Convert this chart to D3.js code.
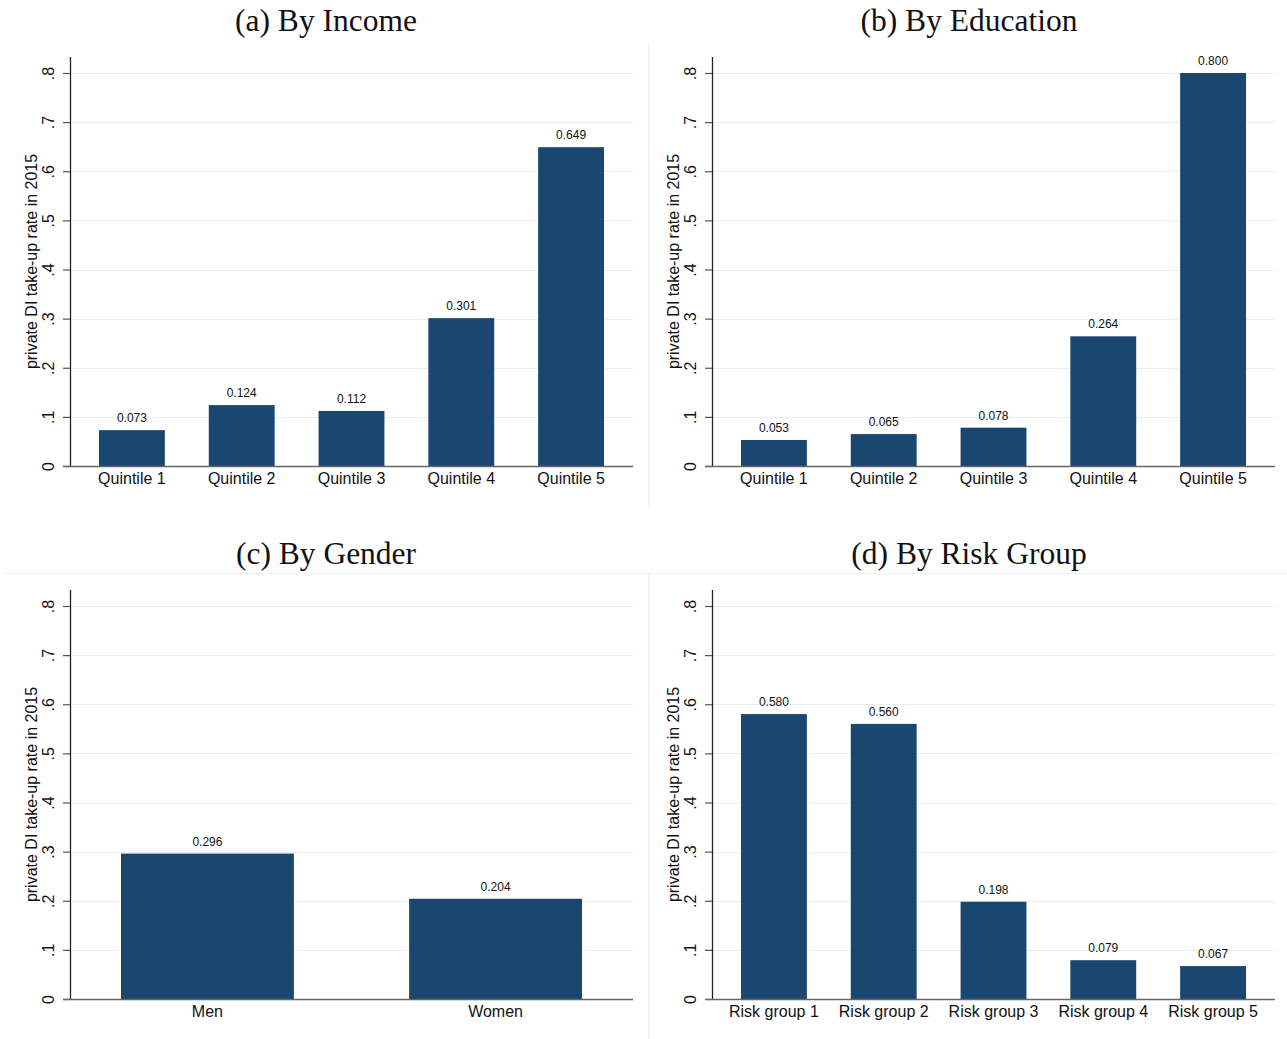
<!DOCTYPE html>
<html>
<head>
<meta charset="utf-8">
<script src="https://cdn.jsdelivr.net/npm/d3@7/dist/d3.min.js"></script>
<style>
  html, body { margin: 0; padding: 0; background: #fff; }
  svg { display: block; }
</style>
</head>
<body>
<script>
// ---------- data ----------
const titles = ["(a) By Income", "(b) By Education", "(c) By Gender", "(d) By Risk Group"];
const incomeCats = ["Quintile 1", "Quintile 2", "Quintile 3", "Quintile 4", "Quintile 5"];
const incomeVals = [0.073, 0.124, 0.112, 0.301, 0.649];
const eduCats = ["Quintile 1", "Quintile 2", "Quintile 3", "Quintile 4", "Quintile 5"];
const eduVals = [0.053, 0.065, 0.078, 0.264, 0.800];
const genderCats = ["Men", "Women"];
const genderVals = [0.296, 0.204];
const riskCats = ["Risk group 1", "Risk group 2", "Risk group 3", "Risk group 4", "Risk group 5"];
const riskVals = [0.580, 0.560, 0.198, 0.079, 0.067];
const yTicks = [0, 0.1, 0.2, 0.3, 0.4, 0.5, 0.6, 0.7, 0.8];
const yTickLabels = ["0", ".1", ".2", ".3", ".4", ".5", ".6", ".7", ".8"];
const yTitle = "private DI take-up rate in 2015";

// ---------- layout ----------
const W = 1287, H = 1039;
const svg = d3.select("body").append("svg").attr("width", W).attr("height", H);
const barColor = "#1a476f";
const sans = "'Liberation Sans', Arial, sans-serif";
const serif = "'Liberation Serif', 'Times New Roman', serif";

// faint separators
const sep = svg.append("g").attr("stroke", "#edf3f5").attr("stroke-width", 1.2);
sep.append("line").attr("x1", 648.5).attr("x2", 648.5).attr("y1", 42).attr("y2", 508);
sep.append("line").attr("x1", 648.5).attr("x2", 648.5).attr("y1", 573).attr("y2", 1039);
sep.append("line").attr("x1", 5).attr("x2", 1287).attr("y1", 573.5).attr("y2", 573.5);

const panels = [
  {title: titles[0], cats: incomeCats, vals: incomeVals, ox: 0,   oy: 0,   po: 0.264, tx: 326},
  {title: titles[1], cats: eduCats,    vals: eduVals,    ox: 642, oy: 0,   po: 0.264, tx: 969},
  {title: titles[2], cats: genderCats, vals: genderVals, ox: 0,   oy: 533, po: 0.177, tx: 326},
  {title: titles[3], cats: riskCats,   vals: riskVals,   ox: 642, oy: 533, po: 0.264, tx: 969}
];

panels.forEach(p => {
  const x0 = 70 + p.ox, x1 = 633 + p.ox;
  const yBase = 466 + p.oy, yTop = 73 + p.oy;
  const y = d3.scaleLinear().domain([0, 0.8]).range([yBase, yTop]);
  const x = d3.scaleBand().domain(p.cats).range([x0, x1]).paddingInner(0.4).paddingOuter(p.po);

  // title
  svg.append("text")
    .attr("x", p.tx).attr("y", 31 + p.oy)
    .attr("text-anchor", "middle")
    .style("font-family", serif).style("font-size", "31.5px").attr("fill", "#111")
    .text(p.title);

  const g = svg.append("g");

  // grid
  g.append("g").selectAll("line")
    .data(yTicks.filter(d => d > 0))
    .join("line")
    .attr("x1", x0).attr("x2", x1)
    .attr("y1", d => Math.round(y(d)) + 0.5).attr("y2", d => Math.round(y(d)) + 0.5)
    .attr("stroke", "#e6eff1").attr("stroke-width", 1);

  // bars
  g.append("g").selectAll("rect")
    .data(p.vals)
    .join("rect")
    .attr("x", (d, i) => x(p.cats[i]))
    .attr("width", x.bandwidth())
    .attr("y", d => y(d))
    .attr("height", d => y(0) - y(d))
    .attr("fill", barColor);

  // value labels
  g.append("g").selectAll("text")
    .data(p.vals)
    .join("text")
    .attr("x", (d, i) => x(p.cats[i]) + x.bandwidth() / 2)
    .attr("y", d => y(d) - 8)
    .attr("text-anchor", "middle")
    .style("font-family", sans).style("font-size", "12px").attr("fill", "#111")
    .text(d => d.toFixed(3));

  // y axis
  const ya = g.append("g").attr("transform", `translate(${x0},0)`)
    .call(d3.axisLeft(y).tickValues(yTicks).tickFormat((d, i) => yTickLabels[i]).tickSize(7));
  ya.select(".domain").remove();
  ya.selectAll(".tick line").attr("stroke", "#555").attr("stroke-width", 1.2);
  ya.selectAll(".tick text")
    .attr("x", null).attr("dy", null)
    .attr("transform", "translate(-16,0) rotate(-90)")
    .attr("text-anchor", "middle")
    .style("font-family", sans).style("font-size", "16px").attr("fill", "#111");
  g.append("line")
    .attr("x1", x0 + 0.5).attr("x2", x0 + 0.5)
    .attr("y1", yBase).attr("y2", yTop - 16)
    .attr("stroke", "#222").attr("stroke-width", 1.3);

  // y title
  svg.append("text")
    .attr("transform", `translate(${37 + p.ox},${(yBase + yTop - 16) / 2}) rotate(-90)`)
    .attr("text-anchor", "middle")
    .style("font-family", sans).style("font-size", "16px").attr("fill", "#111")
    .text(yTitle);

  // x axis
  const xa = g.append("g").attr("transform", `translate(0,${yBase})`)
    .call(d3.axisBottom(x).tickSize(0).tickPadding(7));
  xa.select(".domain").remove();
  xa.selectAll(".tick text")
    .style("font-family", sans).style("font-size", "16px").attr("fill", "#111");
  g.append("line")
    .attr("x1", x0 - 7).attr("x2", x1)
    .attr("y1", yBase + 0.5).attr("y2", yBase + 0.5)
    .attr("stroke", "#666").attr("stroke-width", 1.6);
});
</script>
</body>
</html>
